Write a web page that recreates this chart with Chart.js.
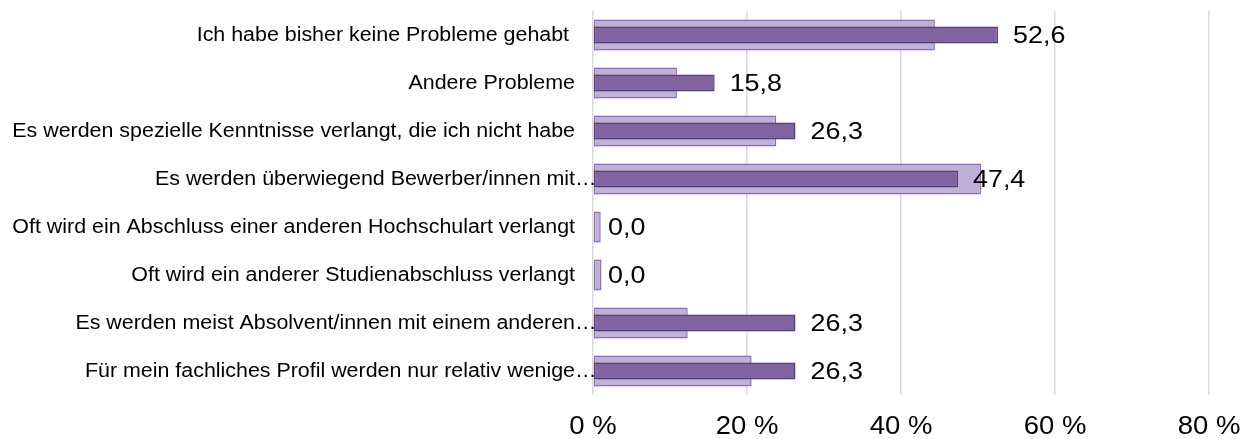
<!DOCTYPE html>
<html>
<head>
<meta charset="utf-8">
<script src="https://cdn.jsdelivr.net/npm/chart.js@4.4.1/dist/chart.umd.min.js"></script>
<style>
  html, body { margin: 0; padding: 0; background: #fff; }
  #wrap { width: 1247px; height: 439px; }
</style>
</head>
<body>
<div id="wrap"><canvas id="myChart"></canvas></div>
<script>
const categories = [
  "Ich habe bisher keine Probleme gehabt ",
  "Andere Probleme",
  "Es werden spezielle Kenntnisse verlangt, die ich nicht habe",
  "Es werden überwiegend Bewerber/innen mit…",
  "Oft wird ein Abschluss einer anderen Hochschulart verlangt",
  "Oft wird ein anderer Studienabschluss verlangt",
  "Es werden meist Absolvent/innen mit einem anderen…",
  "Für mein fachliches Profil werden nur relativ wenige…",
];
// light (comparison) series, no labels
const lightValues = [44.4, 10.9, 23.8, 50.4, 1.0, 1.1, 12.3, 20.6];
// dark series, labelled
const darkValues = [52.6, 15.8, 26.3, 47.4, 0.0, 0.0, 26.3, 26.3];
const xTicks = [0, 20, 40, 60, 80];

const FONT = "'Liberation Sans', Arial, sans-serif";

// the original text is a little wider than it is tall
function wideText(ctx, txt, x, y, sx, align) {
  ctx.save();
  ctx.translate(x, y);
  ctx.scale(sx, 1);
  ctx.textAlign = align;
  ctx.fillText(txt, 0, 0);
  ctx.restore();
}

// value labels right of the dark bars
const valueLabels = {
  id: "valueLabels",
  afterDatasetsDraw(chart) {
    const ctx = chart.ctx;
    const meta = chart.getDatasetMeta(1);
    ctx.save();
    ctx.font = "24px " + FONT;
    ctx.fillStyle = "#000";
    ctx.textBaseline = "middle";
    meta.data.forEach((bar, i) => {
      let txt = darkValues[i].toFixed(1).replace(".", ",");
      wideText(ctx, txt, bar.x + 15, bar.y + 1, 1.12, "left");
    });
    ctx.restore();
  },
};

// category labels + x tick labels, ellipsis allowed to run into the plot like the original
const axisLabels = {
  id: "axisLabels",
  afterDraw(chart) {
    const ctx = chart.ctx;
    const y = chart.scales.y;
    const x = chart.scales.x;
    const right = chart.chartArea.left - 18;
    ctx.save();
    ctx.font = "20px " + FONT;
    ctx.fillStyle = "#000";
    ctx.textBaseline = "middle";
    categories.forEach((c, i) => {
      let py = y.getPixelForTick(i);
      if (c.endsWith("…")) {
        wideText(ctx, c.slice(0, -1), right, py, 1.07, "right");
        wideText(ctx, "…", right, py, 1.07, "left");
      } else {
        wideText(ctx, c, right, py, 1.07, "right");
      }
    });
    ctx.font = "25px " + FONT;
    xTicks.forEach((v) => {
      wideText(ctx, v + " %", x.getPixelForValue(v), 427, 1.1, "center");
    });
    ctx.restore();
  },
};

new Chart(document.getElementById("myChart"), {
  type: "bar",
  data: {
    labels: categories,
    datasets: [
      {
        label: "Vergleich",
        data: lightValues,
        backgroundColor: "rgb(191, 177, 213)",
        borderColor: "rgb(140, 110, 180)",
        borderWidth: 1.5,
        borderSkipped: false,
        barPercentage: 0.65,
        categoryPercentage: 1,
        grouped: false,
        order: 2,
      },
      {
        label: "Anteil",
        data: darkValues,
        backgroundColor: "rgb(128, 99, 160)",
        borderColor: "rgb(88, 62, 120)",
        borderWidth: 1.5,
        borderSkipped: false,
        barPercentage: 0.35,
        categoryPercentage: 1,
        grouped: false,
        order: 1,
      },
    ],
  },
  options: {
    indexAxis: "y",
    responsive: true,
    maintainAspectRatio: false,
    animation: false,
    layout: { padding: { top: 11, right: 38, left: 0, bottom: 0 } },
    plugins: {
      legend: { display: false },
      tooltip: { enabled: false },
    },
    scales: {
      x: {
        min: 0,
        max: 80,
        afterBuildTicks: (scale) => {
          scale.ticks = xTicks.map((v) => ({ value: v }));
        },
        afterFit: (scale) => {
          scale.height = 44;
        },
        grid: { color: "#d9d9d9", lineWidth: 1.5, drawTicks: false },
        border: { display: false },
        ticks: { display: false },
      },
      y: {
        afterFit: (scale) => {
          scale.width = 593;
        },
        grid: { display: false },
        border: { display: false },
        ticks: { display: false },
      },
    },
  },
  plugins: [valueLabels, axisLabels],
});
</script>
</body>
</html>
